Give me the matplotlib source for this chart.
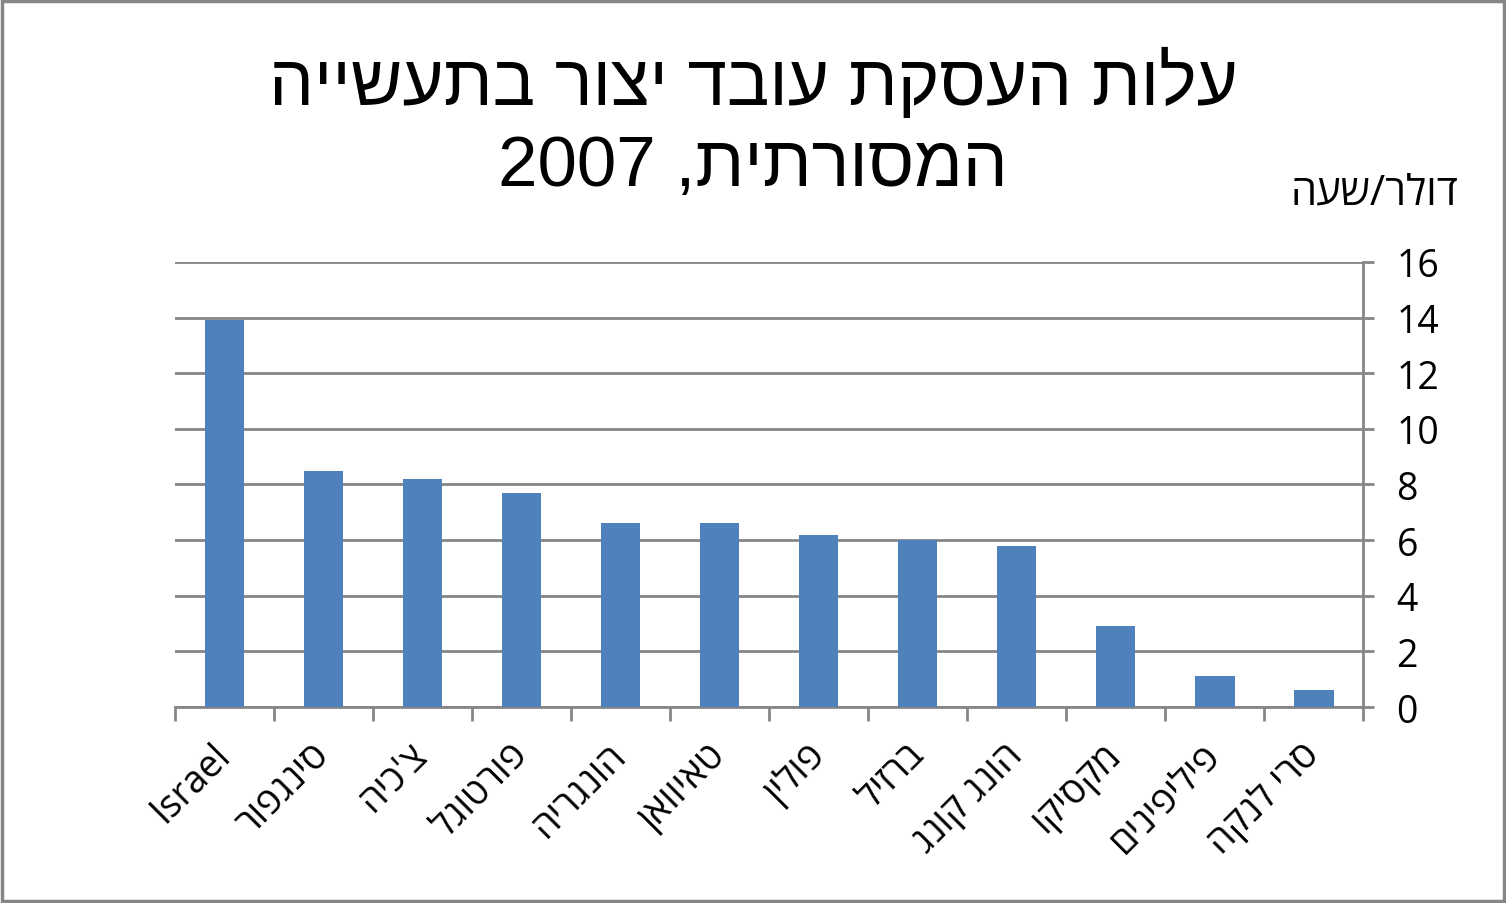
import numpy as np
import matplotlib.pyplot as plt
from matplotlib.patches import Rectangle

# chart data
countries = ["Israel", "סינגפור", "צ'כיה", "פורטוגל", "הונגריה", "טאיוואן",
             "פולין", "ברזיל", "הונג קונג", "מקסיקו", "פיליפינים", "סרי לנקה"]
cost = [13.9, 8.5, 8.2, 7.7, 6.6, 6.6, 6.2, 6.0, 5.8, 2.9, 1.1, 0.6]
yticks = [0, 2, 4, 6, 8, 10, 12, 14, 16]

title_lines = ["עלות העסקת עובד יצור בתעשייה", "המסורתית, 2007"]
unit_label = "דולר/שעה"

BAR_COLOR = "#4F81BD"
GRID_COLOR = "#868686"
HEB_FONT = ["Open Sans", "DejaVu Sans"]
TITLE_FONT = ["Liberation Sans", "DejaVu Sans"]


# matplotlib has no bidi support: reorder words and flip Hebrew ones
def rtl(s):
    words = s.split(" ")[::-1]
    out = []
    for w in words:
        if any("\u0590" <= c <= "\u05ff" for c in w):
            out.append(w[::-1])
        else:
            out.append(w)
    return " ".join(out)


fig = plt.figure(figsize=(15.06, 9.04), dpi=100)
ax = fig.add_axes([0.1162, 0.2168, 0.789, 0.4923])

x = np.arange(len(countries))
ax.bar(x, cost, width=0.4, color=BAR_COLOR, zorder=3)

ax.set_xlim(-0.5, len(countries) - 0.5)
ax.set_ylim(0, 16)

# y axis on the right, Excel style
ax.yaxis.tick_right()
ax.set_yticks(yticks)
ax.set_yticklabels([str(v) for v in yticks], fontsize=27, family=HEB_FONT)
ax.tick_params(axis="y", direction="out", length=8, width=2, color=GRID_COLOR, pad=16)
ax.grid(axis="y", color=GRID_COLOR, linewidth=2, zorder=0)

# category labels at centres, ticks at the boundaries
ax.set_xticks(x)
ax.set_xticklabels([rtl(c) for c in countries], rotation=45, ha="right",
                   va="center", rotation_mode="anchor", fontsize=27, family=HEB_FONT)
ax.tick_params(axis="x", which="major", length=0, pad=30)
ax.set_xticks(np.arange(len(countries) + 1) - 0.5, minor=True)
ax.tick_params(axis="x", which="minor", direction="out", length=10, width=2, color=GRID_COLOR)

for side in ["top", "left"]:
    ax.spines[side].set_visible(False)
for side in ["right", "bottom"]:
    ax.spines[side].set_color(GRID_COLOR)
    ax.spines[side].set_linewidth(2)

fig.text(0.5, 0.907, rtl(title_lines[0]), ha="center", va="center",
         fontsize=51, family=TITLE_FONT)
fig.text(0.5, 0.814, rtl(title_lines[1]), ha="center", va="center",
         fontsize=51, family=TITLE_FONT)
fig.text(0.968, 0.786, rtl(unit_label), ha="right", va="center",
         fontsize=30, family=HEB_FONT)

# grey frame round the chart
fig.patches.append(Rectangle((0.001, 0.002), 0.998, 0.996, transform=fig.transFigure,
                             fill=False, edgecolor=GRID_COLOR, linewidth=2.5))

fig.savefig("out.png", dpi=100)
